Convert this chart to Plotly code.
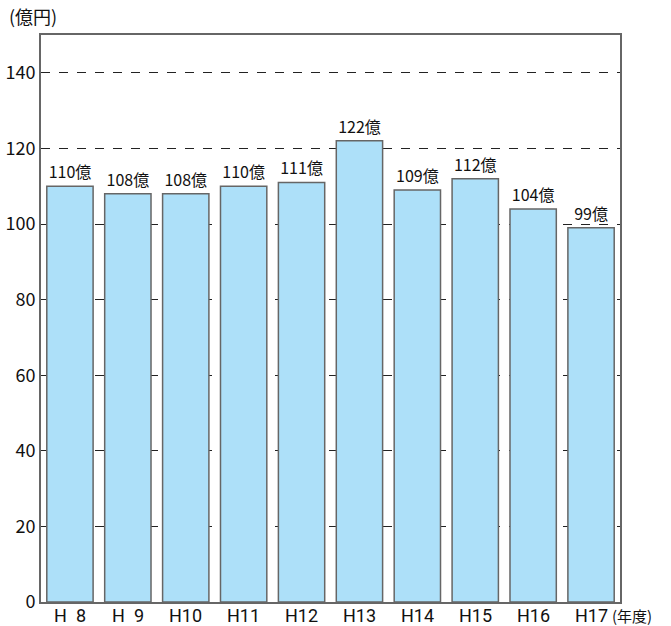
import plotly.graph_objects as go

categories = ["H\u20028", "H\u20029", "H10", "H11", "H12", "H13", "H14", "H15", "H16", "H17"]
values = [110, 108, 108, 110, 111, 122, 109, 112, 104, 99]
labels = [f"{v}億" for v in values]
y_ticks = [0, 20, 40, 60, 80, 100, 120, 140]

font_family = "Noto Sans CJK JP, sans-serif"

fig = go.Figure()
fig.add_trace(go.Bar(
    x=categories, y=values, text=labels, textposition="outside",
    textfont=dict(size=16, color="#111", family=font_family),
    marker=dict(color="#ade0f9", line=dict(color="#666666", width=1.5)),
    cliponaxis=False, hoverinfo="skip",
))

annotations = [
    dict(text="(億円)", xref="paper", yref="paper", x=0, xshift=-34, y=1.0, yshift=4,
         xanchor="left", yanchor="bottom", showarrow=False, font=dict(size=18)),
    dict(text="(年度)", xref="paper", yref="paper", x=1.0, y=0, xshift=-10,
         xanchor="left", yanchor="top", yshift=-1, showarrow=False,
         font=dict(size=15)),
]
for c in categories:
    annotations.append(dict(text=c, xref="x", yref="paper", x=c, y=0, yshift=-1,
                            xanchor="center", yanchor="top", showarrow=False,
                            font=dict(size=18, family="Roboto, Arial, sans-serif")))

fig.update_layout(
    width=671, height=626,
    margin=dict(l=41, r=51, t=35, b=24, autoexpand=False),
    plot_bgcolor="white", paper_bgcolor="white",
    bargap=0.2, showlegend=False,
    font=dict(family=font_family, size=16, color="#111"),
    xaxis=dict(showline=True, linecolor="#666", linewidth=2, mirror=True, automargin=False,
               ticks="", showticklabels=False, showgrid=False),
    yaxis=dict(range=[0, 150], tickvals=y_ticks, showline=True, linecolor="#666",
               linewidth=2, mirror=True, showgrid=True, gridcolor="#222", automargin=False,
               griddash="dash", gridwidth=1, ticks="", zeroline=False,
               tickfont=dict(size=18)),
    annotations=annotations,
)
fig.write_html("out.html", config={"displayModeBar": False},
               post_script="document.body.style.margin='0';document.body.style.overflow='hidden';")
